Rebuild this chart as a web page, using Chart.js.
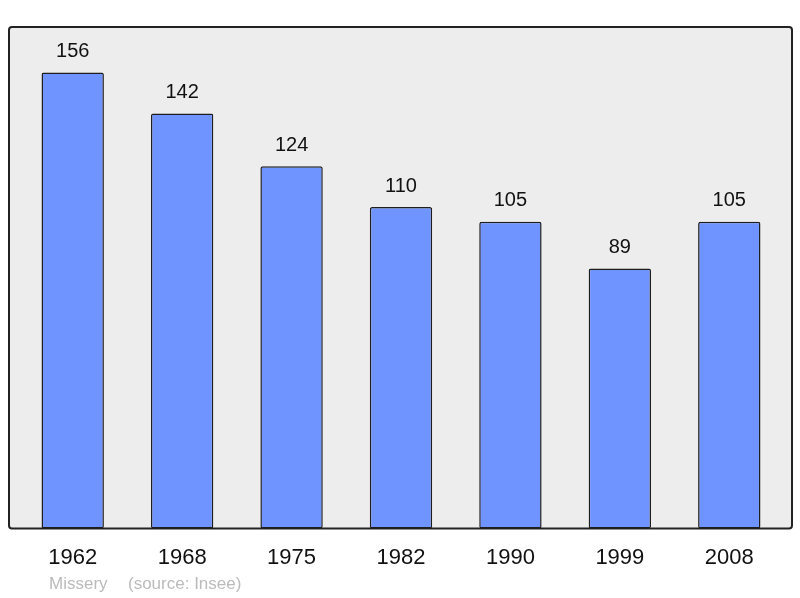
<!DOCTYPE html>
<html>
<head>
<meta charset="utf-8">
<script src="https://cdn.jsdelivr.net/npm/chart.js@4"></script>
<style>
  html, body { margin: 0; padding: 0; background: #fff; }
  #wrap { width: 800px; height: 598px; }
</style>
</head>
<body>
<div id="wrap"><canvas id="graphPop"></canvas></div>
<script>
const annees = ["1962", "1968", "1975", "1982", "1990", "1999", "2008"];
const population = [156, 142, 124, 110, 105, 89, 105];
const commune = "Missery";
const source = "(source: Insee)";

// cadre gris derrière les barres
const cadre = {
    id: "cadre",
    beforeDatasetsDraw(chart) {
        const { ctx, chartArea } = chart;
        const x0 = chartArea.left - 9, x1 = chartArea.right + 8;
        const y0 = chartArea.top, y1 = chartArea.bottom;
        ctx.save();
        ctx.beginPath();
        ctx.roundRect(x0, y0, x1 - x0, y1 - y0, 3);
        ctx.fillStyle = "#ededed";
        ctx.fill();
        ctx.lineWidth = 2;
        ctx.strokeStyle = "#222";
        ctx.stroke();
        ctx.restore();
    },
    afterDatasetsDraw(chart) {
        const { ctx } = chart;
        const meta = chart.getDatasetMeta(0);
        ctx.save();
        ctx.font = "20px 'Liberation Sans', Arial, sans-serif";
        ctx.fillStyle = "#111";
        ctx.textAlign = "center";
        ctx.textBaseline = "middle";
        meta.data.forEach((bar, i) => {
            ctx.fillText(String(population[i]), bar.x, bar.y - 21);
        });
        ctx.font = "17px 'Liberation Sans', Arial, sans-serif";
        ctx.fillStyle = "#bbb";
        ctx.textAlign = "left";
        ctx.fillText(commune, 49, 584);
        ctx.fillText(source, 128, 584);
        ctx.restore();
    },
};

new Chart(document.getElementById("graphPop").getContext("2d"), {
    type: "bar",
    data: {
        labels: annees,
        datasets: [
            {
                label: "Population",
                data: population,
                backgroundColor: "#7094ff",
                borderColor: "#1e1e1e",
                borderWidth: 1.5,
                borderRadius: 2,
                borderSkipped: false,
                categoryPercentage: 1,
                barPercentage: 0.57,
            },
        ],
    },
    options: {
        responsive: true,
        maintainAspectRatio: false,
        animation: false,
        layout: {
            padding: { top: 27, left: 18, right: 16, bottom: 19 },
        },
        plugins: {
            legend: { display: false },
            tooltip: { enabled: false },
        },
        scales: {
            x: {
                grid: { display: false },
                border: { display: false },
                ticks: {
                    padding: 8,
                    color: "#111",
                    font: { size: 22, family: "'Liberation Sans', Arial, sans-serif" },
                },
            },
            y: {
                display: false,
                min: 0,
                max: 171.6,
            },
        },
    },
    plugins: [cadre],
});
</script>
</body>
</html>
